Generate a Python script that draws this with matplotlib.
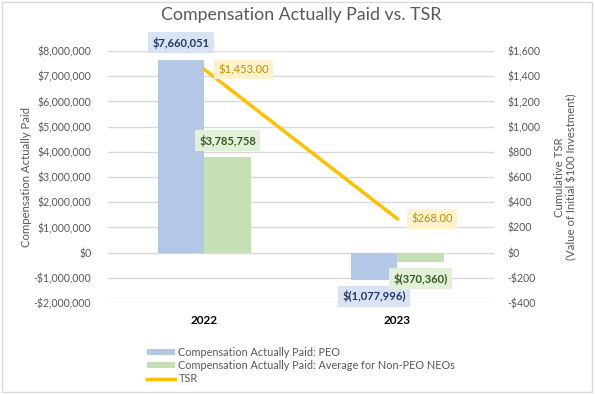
import matplotlib
matplotlib.use("Agg")
import matplotlib.pyplot as plt
from matplotlib.patches import Patch, Rectangle
from matplotlib.lines import Line2D
import numpy as np

plt.rcParams['font.family'] = ['Lato', 'DejaVu Sans']

years = ["2022", "2023"]
peo = [7660051, -1077996]
non_peo = [3785758, -370360]
tsr = [1453.00, 268.00]
peo_labels = ["$7,660,051", "$(1,077,996)"]
non_peo_labels = ["$3,785,758", "$(370,360)"]
tsr_labels = ["$1,453.00", "$268.00"]

left_ticks = list(range(-2000000, 8000001, 1000000))
right_ticks = list(range(-400, 1601, 200))

def fmt_money(v):
    return "$0" if v == 0 else ("-$" if v < 0 else "$") + f"{abs(v):,}"

C_PEO = "#B4C7E7"
C_NEO = "#C5E0B4"
C_TSR = "#FFC000"
GRAY = "#595959"

fig = plt.figure(figsize=(5.95, 3.94), dpi=100)
fig.patches.append(Rectangle((0.004, 0.006), 0.991, 0.988, transform=fig.transFigure,
                             fill=False, edgecolor="#D9D9D9", linewidth=1.0))
ax = fig.add_axes([0.1815, 0.231, 0.6485, 0.6396])
ax2 = ax.twinx()

x = np.arange(len(years))
w = 0.24
ax.bar(x - w / 2, peo, width=w, color=C_PEO, zorder=2)
ax.bar(x + w / 2, non_peo, width=w, color=C_NEO, zorder=2)
ax.set_ylim(-2000000, 8000000)
ax.set_xlim(-0.5, 1.5)
ax.set_yticks(left_ticks)
ax.set_yticklabels([fmt_money(v) for v in left_ticks])
ax.grid(axis="y", color="#D9D9D9", linewidth=1.0, zorder=0)
ax.set_axisbelow(True)
ax.set_xticks(x)
ax.set_xticklabels(years, fontweight="bold", fontsize=8.5, color="black")
ax.tick_params(axis="x", length=0, pad=9)
ax.tick_params(axis="y", length=0, labelsize=7.6, labelcolor=GRAY, pad=12)
for s in ax.spines.values():
    s.set_visible(False)
ax.set_ylabel("Compensation Actually Paid", fontsize=8.2, color=GRAY)
ax.yaxis.set_label_coords(-0.197, 0.5)

ax2.plot(x, tsr, color=C_TSR, linewidth=2.5, zorder=3)
ax2.set_ylim(-400, 1600)
ax2.set_yticks(right_ticks)
ax2.set_yticklabels([fmt_money(v) for v in right_ticks])
ax2.tick_params(axis="y", length=0, labelsize=7.6, labelcolor=GRAY, pad=10)
for s in ax2.spines.values():
    s.set_visible(False)
ax2.set_ylabel("Cumulative TSR\n(Value of Initial $100 Investment)", fontsize=8.2,
               color=GRAY, linespacing=1.15)
ax2.yaxis.set_label_coords(1.155, 0.5)

# Data labels
for i in range(len(years)):
    off = 12 if peo[i] >= 0 else -12
    ax.annotate(peo_labels[i], (x[i] - w / 2, peo[i]), xytext=(0, off), textcoords="offset points",
                ha="center", va="center", fontsize=8, fontweight="bold", color="#203864", zorder=5,
                bbox=dict(boxstyle="square,pad=0.4", fc="#DAE3F3", ec="none"))
    off = 12 if non_peo[i] >= 0 else -12
    ax.annotate(non_peo_labels[i], (x[i] + w / 2, non_peo[i]), xytext=(0, off), textcoords="offset points",
                ha="center", va="center", fontsize=8, fontweight="bold", color="#385723", zorder=5,
                bbox=dict(boxstyle="square,pad=0.4", fc="#E2F0D9", ec="none"))
    ax2.annotate(tsr_labels[i], (x[i], tsr[i]), xytext=(10, 0), textcoords="offset points",
                 ha="left", va="center", fontsize=8, color="#BF9000", zorder=5,
                 bbox=dict(boxstyle="square,pad=0.4", fc="#FFF2CC", ec="none"))

fig.text(0.507, 0.962, "Compensation Actually Paid vs. TSR", ha="center", va="center",
         fontsize=12.8, color=GRAY)

handles = [Patch(facecolor=C_PEO, edgecolor="none"),
           Patch(facecolor=C_NEO, edgecolor="none"),
           Line2D([0], [0], color=C_TSR, linewidth=2.5)]
labels = ["Compensation Actually Paid: PEO",
          "Compensation Actually Paid: Average for Non-PEO NEOs",
          "TSR"]
leg = fig.legend(handles, labels, loc="upper left",
                 bbox_to_anchor=(0.247, 1 - 347 / 394), bbox_transform=fig.transFigure,
                 frameon=False, fontsize=7.8, handlelength=2.6, handleheight=0.5,
                 handletextpad=0.3, labelspacing=0.2, borderaxespad=0, borderpad=0)
for t in leg.get_texts():
    t.set_color(GRAY)

fig.savefig("out.png", dpi=100)
